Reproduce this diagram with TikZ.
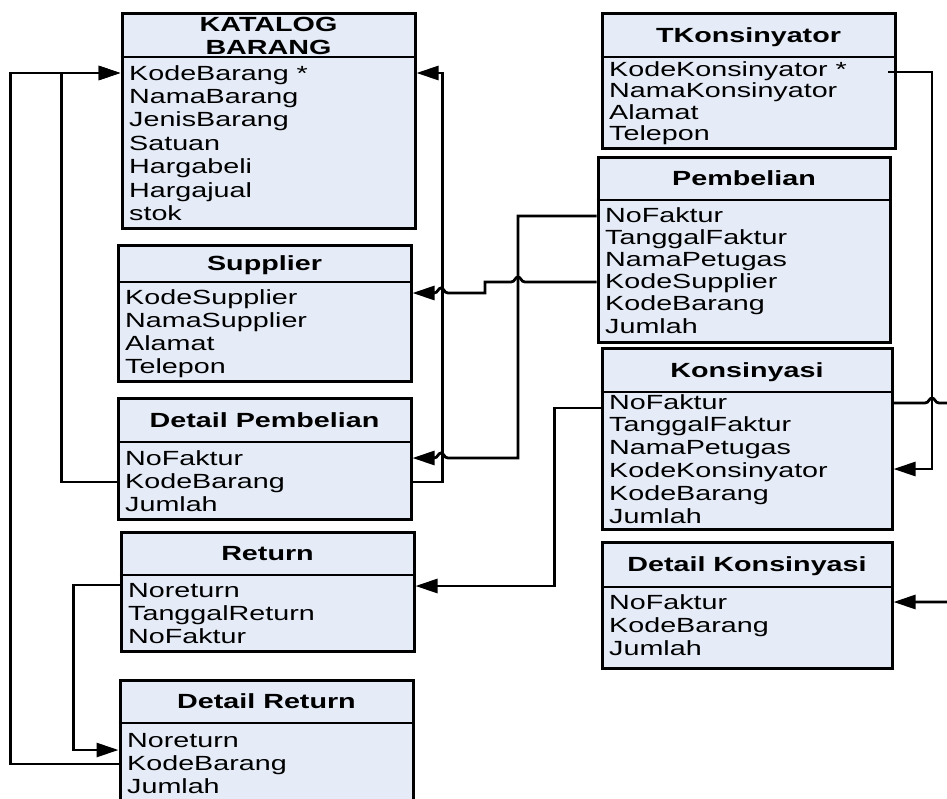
\documentclass[tikz,border=0pt]{standalone}
\usepackage{fontspec}
\newfontfamily\tabfont[FakeStretch=1.40]{Liberation Sans}
\usetikzlibrary{arrows.meta,fit}
\definecolor{boxfill}{RGB}{229,236,247}

\tikzset{
  tbl/.style={draw, line width=3pt, fill=boxfill, inner sep=0pt},
  hdrline/.style={line width=2.2pt},
  hdr/.style={font=\tabfont\fontsize{20.5}{24}\selectfont\bfseries, anchor=base, inner sep=0pt},
  fld/.style={font=\tabfont\fontsize{20.5}{24}\selectfont, anchor=base west, inner sep=0pt},
  rel/.style={line width=2.8pt, -{Triangle[length=22pt,width=14pt]}},
  % small bump where a horizontal line jumps over a vertical one
  hopl/.style 2 args={insert path={ -- ({#1+7},#2) .. controls ({#1+3},#2) and ({#1+3},{#2-5}) .. (#1,{#2-5}) .. controls ({#1-3},{#2-5}) and ({#1-3},#2) .. ({#1-7},#2) }},
  hopr/.style 2 args={insert path={ -- ({#1-7},#2) .. controls ({#1-3},#2) and ({#1-3},{#2-5}) .. (#1,{#2-5}) .. controls ({#1+3},{#2-5}) and ({#1+3},#2) .. ({#1+7},#2) }},
}

% table frame: name, left, top, right, divider, bottom, title
\newcommand\ertable[7]{%
  \node[tbl, fit={(#2,#3) (#4,#6)}] (#1) {};
  \draw[hdrline] (#1.west |- 0,#5) -- (#1.east |- 0,#5);
  \node[hdr] (#1-h) at ({(#2+#4)/2},{(#3+#5)/2+7}) {#7};
}
% table fields: name, left, first baseline, step, list
\newcommand\errows[5]{%
  \foreach \t [count=\i] in {#5} {\node[fld] (#1-r\i) at ({#2+7},{#3+(\i-1)*#4}) {\t};}
}

\begin{document}
\begin{tikzpicture}[x=1pt, y=-1pt]
\useasboundingbox (0,0) rectangle (947,798);
\clip (0,0) rectangle (947,798);

% ---- left column ----
\node[tbl, fit={(122,13) (415,228)}] (kat) {};
\draw[hdrline] (kat.west |- 0,57) -- (kat.east |- 0,57);
\node[hdr] (kat-h1) at (268.5,31) {KATALOG};
\node[hdr] (kat-h2) at (268.5,54) {BARANG};
\errows{kat}{122}{80}{23.4}{KodeBarang *,NamaBarang,JenisBarang,Satuan,Hargabeli,Hargajual,stok}

\ertable{sup}{118}{245}{411}{282}{381}{Supplier}
\errows{sup}{118}{304}{23}{KodeSupplier,NamaSupplier,Alamat,Telepon}

\ertable{dpb}{118}{398}{411}{442}{519}{Detail Pembelian}
\errows{dpb}{118}{465}{23}{NoFaktur,KodeBarang,Jumlah}

\ertable{ret}{121}{532}{414}{575}{651}{Return}
\errows{ret}{121}{597}{23}{Noreturn,TanggalReturn,NoFaktur}

\ertable{dre}{120}{680}{413}{723}{812}{Detail Return}
\errows{dre}{120}{747}{23}{Noreturn,KodeBarang,Jumlah}

% ---- right column ----
\ertable{tko}{602}{13}{895}{57}{148}{TKonsinyator}
\errows{tko}{602}{76}{21.5}{KodeKonsinyator *,NamaKonsinyator,Alamat,Telepon}

\ertable{pem}{598}{157}{890}{200}{342}{Pembelian}
\errows{pem}{598}{222}{22.2}{NoFaktur,TanggalFaktur,NamaPetugas,KodeSupplier,KodeBarang,Jumlah}

\ertable{kon}{602}{348}{892}{392}{529}{Konsinyasi}
\errows{kon}{602}{409}{22.8}{NoFaktur,TanggalFaktur,NamaPetugas,KodeKonsinyator,KodeBarang,Jumlah}

\ertable{dko}{602}{542}{892}{587}{668}{Detail Konsinyasi}
\errows{dko}{602}{609}{23}{NoFaktur,KodeBarang,Jumlah}

% ---- relationships ----
\draw[rel] (dpb.west |- 0,482) -- ++(-55,0) |- (kat.west |- 0,73);
\draw[rel] (dre.west |- 0,764) -- ++(-108,0) |- (kat.west |- 0,73);
\draw[rel] (dpb.east |- 0,482) -- ++(30,0) |- (kat.east |- 0,73);
\draw[rel] (pem.west |- 0,282) [hopl={518}{282}] -- (485,282) -- (485,293) [hopl={441}{293}] -- (sup.east |- 0,293);
\draw[rel] (pem.west |- 0,216) -- (518,216) -- (518,458) [hopl={441}{458}] -- (dpb.east |- 0,458);
\draw[rel] (kon.west |- 0,408) -- ++(-46,0) |- (ret.east |- 0,586);
\draw[rel] (ret.west |- 0,585) -- ++(-46,0) |- (dre.west |- 0,750);
\coordinate (tko-out) at (888,72);
\draw[rel] (tko-out) -- ++(44,0) |- (kon.east |- 0,469);
\draw[rel] (kon.east |- 0,403) [hopr={932}{403}] -- (962,403) |- (dko.east |- 0,602);
\end{tikzpicture}
\end{document}
